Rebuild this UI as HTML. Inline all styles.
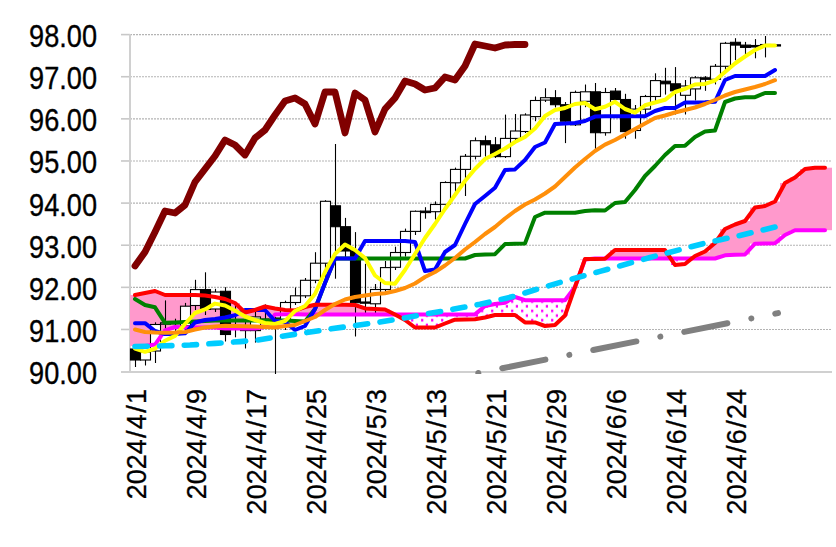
<!DOCTYPE html>
<html><head><meta charset="utf-8"><style>
html,body{margin:0;padding:0;background:#fff;}
body{width:836px;height:547px;position:relative;overflow:hidden;font-family:"Liberation Sans",sans-serif;}
.yl{position:absolute;left:0;width:97px;text-align:right;font-size:31px;line-height:34px;color:#000;transform:scaleX(0.875);transform-origin:97px 0;-webkit-text-stroke:0.35px #000;}
.sl{margin:0 1.3px;}
.xl{position:absolute;top:389px;font-size:27px;line-height:27px;color:#000;white-space:nowrap;-webkit-text-stroke:0.3px #000;transform-origin:0 0;transform:rotate(-90deg) translate(-100%,0);}
</style></head><body>
<svg width="836" height="547" viewBox="0 0 836 547" style="position:absolute;left:0;top:0">
<defs><pattern id="dots" x="0" y="2" width="10" height="9.3" patternUnits="userSpaceOnUse"><rect x="0" y="0" width="10" height="9.3" fill="#fff"/><rect x="5.8" y="5.4" width="2.2" height="2.6" fill="#ff00ff"/><rect x="1.1" y="0.7" width="2.2" height="2.6" fill="#ff00ff"/></pattern></defs>
<line x1="121" y1="34.6" x2="130" y2="34.6" stroke="#c8c8c8" stroke-width="1.6"/>
<line x1="130" y1="34.6" x2="832" y2="34.6" stroke="#b4b4b4" stroke-width="1.2" stroke-dasharray="2 1"/>
<line x1="121" y1="76.725" x2="130" y2="76.725" stroke="#c8c8c8" stroke-width="1.6"/>
<line x1="130" y1="76.725" x2="832" y2="76.725" stroke="#b4b4b4" stroke-width="1.2" stroke-dasharray="2 1"/>
<line x1="121" y1="118.85" x2="130" y2="118.85" stroke="#c8c8c8" stroke-width="1.6"/>
<line x1="130" y1="118.85" x2="832" y2="118.85" stroke="#b4b4b4" stroke-width="1.2" stroke-dasharray="2 1"/>
<line x1="121" y1="160.975" x2="130" y2="160.975" stroke="#c8c8c8" stroke-width="1.6"/>
<line x1="130" y1="160.975" x2="832" y2="160.975" stroke="#b4b4b4" stroke-width="1.2" stroke-dasharray="2 1"/>
<line x1="121" y1="203.1" x2="130" y2="203.1" stroke="#c8c8c8" stroke-width="1.6"/>
<line x1="130" y1="203.1" x2="832" y2="203.1" stroke="#b4b4b4" stroke-width="1.2" stroke-dasharray="2 1"/>
<line x1="121" y1="245.225" x2="130" y2="245.225" stroke="#c8c8c8" stroke-width="1.6"/>
<line x1="130" y1="245.225" x2="832" y2="245.225" stroke="#b4b4b4" stroke-width="1.2" stroke-dasharray="2 1"/>
<line x1="121" y1="287.35" x2="130" y2="287.35" stroke="#c8c8c8" stroke-width="1.6"/>
<line x1="130" y1="287.35" x2="832" y2="287.35" stroke="#b4b4b4" stroke-width="1.2" stroke-dasharray="2 1"/>
<line x1="121" y1="329.475" x2="130" y2="329.475" stroke="#c8c8c8" stroke-width="1.6"/>
<line x1="130" y1="329.475" x2="832" y2="329.475" stroke="#b4b4b4" stroke-width="1.2" stroke-dasharray="2 1"/>
<line x1="130" y1="34" x2="130" y2="372" stroke="#d0d0d0" stroke-width="2"/>
<line x1="121" y1="372" x2="832" y2="372" stroke="#d0d0d0" stroke-width="2"/>
<rect x="130" y="295" width="10" height="51" fill="#ff99cc"/>
<rect x="140" y="293" width="10" height="53" fill="#ff99cc"/>
<rect x="150" y="291" width="10" height="53.60000000000002" fill="#ff99cc"/>
<rect x="160" y="295" width="10" height="35.30000000000001" fill="#ff99cc"/>
<rect x="170" y="295" width="10" height="32" fill="#ff99cc"/>
<rect x="180" y="295" width="10" height="32.5" fill="#ff99cc"/>
<rect x="190" y="295" width="10" height="32.5" fill="#ff99cc"/>
<rect x="200" y="295.5" width="10" height="32.0" fill="#ff99cc"/>
<rect x="210" y="297" width="10" height="30.5" fill="#ff99cc"/>
<rect x="220" y="299" width="10" height="29.5" fill="#ff99cc"/>
<rect x="230" y="303" width="10" height="25.5" fill="#ff99cc"/>
<rect x="240" y="312.5" width="10" height="16.0" fill="#ff99cc"/>
<rect x="250" y="310" width="10" height="18.5" fill="#ff99cc"/>
<rect x="260" y="306.5" width="10" height="20.5" fill="#ff99cc"/>
<rect x="270" y="308.5" width="10" height="6.100000000000023" fill="#ff99cc"/>
<rect x="280" y="310" width="10" height="4.199999999999989" fill="#ff99cc"/>
<rect x="290" y="310.5" width="10" height="3.6999999999999886" fill="#ff99cc"/>
<rect x="300" y="307" width="10" height="7.399999999999977" fill="#ff99cc"/>
<rect x="310" y="304.7" width="10" height="9.699999999999989" fill="#ff99cc"/>
<rect x="320" y="304.7" width="10" height="9.699999999999989" fill="#ff99cc"/>
<rect x="330" y="304.7" width="10" height="9.699999999999989" fill="#ff99cc"/>
<rect x="340" y="304.7" width="10" height="9.699999999999989" fill="#ff99cc"/>
<rect x="350" y="305" width="10" height="9.399999999999977" fill="#ff99cc"/>
<rect x="360" y="308.4" width="10" height="6.0" fill="#ff99cc"/>
<rect x="370" y="309" width="10" height="5.399999999999977" fill="#ff99cc"/>
<rect x="380" y="309.5" width="10" height="4.899999999999977" fill="#ff99cc"/>
<rect x="390" y="314.4" width="10" height="0.10000000000002274" fill="url(#dots)"/>
<rect x="400" y="314.4" width="10" height="5.600000000000023" fill="url(#dots)"/>
<rect x="410" y="314.4" width="10" height="13.100000000000023" fill="url(#dots)"/>
<rect x="420" y="314.4" width="10" height="13.100000000000023" fill="url(#dots)"/>
<rect x="430" y="314.4" width="10" height="13.100000000000023" fill="url(#dots)"/>
<rect x="440" y="314.4" width="10" height="9.100000000000023" fill="url(#dots)"/>
<rect x="450" y="314.4" width="10" height="5.300000000000011" fill="url(#dots)"/>
<rect x="460" y="314.4" width="10" height="5.100000000000023" fill="url(#dots)"/>
<rect x="470" y="314.4" width="10" height="4.900000000000034" fill="url(#dots)"/>
<rect x="480" y="306" width="10" height="11.5" fill="url(#dots)"/>
<rect x="490" y="304" width="10" height="11" fill="url(#dots)"/>
<rect x="500" y="302.7" width="10" height="12.300000000000011" fill="url(#dots)"/>
<rect x="510" y="297" width="10" height="18" fill="url(#dots)"/>
<rect x="520" y="300.2" width="10" height="22.19999999999999" fill="url(#dots)"/>
<rect x="530" y="300.2" width="10" height="22.19999999999999" fill="url(#dots)"/>
<rect x="540" y="300.2" width="10" height="25.80000000000001" fill="url(#dots)"/>
<rect x="550" y="300.2" width="10" height="24.80000000000001" fill="url(#dots)"/>
<rect x="560" y="300.2" width="10" height="15.300000000000011" fill="url(#dots)"/>
<rect x="570" y="287" width="10" height="0" fill="url(#dots)"/>
<rect x="580" y="259" width="10" height="0.5" fill="#ff99cc"/>
<rect x="590" y="258.5" width="10" height="0.5" fill="url(#dots)"/>
<rect x="600" y="258.5" width="10" height="0.19999999999998863" fill="url(#dots)"/>
<rect x="610" y="250" width="10" height="8.5" fill="#ff99cc"/>
<rect x="620" y="250" width="10" height="8.5" fill="#ff99cc"/>
<rect x="630" y="250" width="10" height="8.5" fill="#ff99cc"/>
<rect x="640" y="250" width="10" height="8.5" fill="#ff99cc"/>
<rect x="650" y="250" width="10" height="8.5" fill="#ff99cc"/>
<rect x="660" y="250" width="10" height="8.5" fill="#ff99cc"/>
<rect x="670" y="258.5" width="10" height="6.5" fill="url(#dots)"/>
<rect x="680" y="258.5" width="10" height="5.5" fill="url(#dots)"/>
<rect x="690" y="256" width="10" height="2.5" fill="#ff99cc"/>
<rect x="700" y="251.5" width="10" height="7.0" fill="#ff99cc"/>
<rect x="710" y="243" width="10" height="15.5" fill="#ff99cc"/>
<rect x="720" y="229" width="10" height="26.30000000000001" fill="#ff99cc"/>
<rect x="730" y="224.5" width="10" height="30.30000000000001" fill="#ff99cc"/>
<rect x="740" y="221" width="10" height="33.5" fill="#ff99cc"/>
<rect x="750" y="207.5" width="10" height="36.19999999999999" fill="#ff99cc"/>
<rect x="760" y="206" width="10" height="37.5" fill="#ff99cc"/>
<rect x="770" y="201.5" width="10" height="41.69999999999999" fill="#ff99cc"/>
<rect x="780" y="183" width="10" height="52" fill="#ff99cc"/>
<rect x="790" y="177.5" width="10" height="52.69999999999999" fill="#ff99cc"/>
<rect x="800" y="169" width="10" height="61.19999999999999" fill="#ff99cc"/>
<rect x="810" y="167.7" width="10" height="62.5" fill="#ff99cc"/>
<rect x="820" y="167.7" width="12" height="62.5" fill="#ff99cc"/>
<line x1="135.5" y1="346" x2="135.5" y2="367" stroke="#000" stroke-width="1.1"/>
<rect x="130.5" y="349" width="10" height="11" fill="#000" stroke="#000" stroke-width="1.1"/>
<line x1="145.5" y1="350" x2="145.5" y2="365.5" stroke="#000" stroke-width="1.1"/>
<rect x="140.5" y="352" width="10" height="8" fill="#fff" stroke="#000" stroke-width="1.1"/>
<line x1="155.5" y1="322.3" x2="155.5" y2="363" stroke="#000" stroke-width="1.1"/>
<rect x="150.5" y="324.5" width="10" height="26.5" fill="#fff" stroke="#000" stroke-width="1.1"/>
<line x1="165.5" y1="300.4" x2="165.5" y2="335" stroke="#000" stroke-width="1.1"/>
<rect x="160.5" y="322.8" width="10" height="1.3999999999999773" fill="#fff" stroke="#000" stroke-width="1.1"/>
<line x1="175.5" y1="318.7" x2="175.5" y2="333" stroke="#000" stroke-width="1.1"/>
<rect x="170.5" y="322.5" width="10" height="1.2" fill="#fff" stroke="#000" stroke-width="1.1"/>
<line x1="185.5" y1="302.9" x2="185.5" y2="330" stroke="#000" stroke-width="1.1"/>
<rect x="180.5" y="306.2" width="10" height="19.600000000000023" fill="#fff" stroke="#000" stroke-width="1.1"/>
<line x1="195.5" y1="279.8" x2="195.5" y2="310" stroke="#000" stroke-width="1.1"/>
<rect x="190.5" y="289.6" width="10" height="15.899999999999977" fill="#fff" stroke="#000" stroke-width="1.1"/>
<line x1="205.5" y1="272.3" x2="205.5" y2="315" stroke="#000" stroke-width="1.1"/>
<rect x="200.5" y="289.6" width="10" height="19.799999999999955" fill="#000" stroke="#000" stroke-width="1.1"/>
<line x1="215.5" y1="288.8" x2="215.5" y2="312" stroke="#000" stroke-width="1.1"/>
<rect x="210.5" y="292" width="10" height="17" fill="#fff" stroke="#000" stroke-width="1.1"/>
<line x1="225.5" y1="287.2" x2="225.5" y2="341.5" stroke="#000" stroke-width="1.1"/>
<rect x="220.5" y="291.3" width="10" height="43.19999999999999" fill="#000" stroke="#000" stroke-width="1.1"/>
<line x1="235.5" y1="304.3" x2="235.5" y2="337.3" stroke="#000" stroke-width="1.1"/>
<rect x="230.5" y="325.5" width="10" height="1.5" fill="#fff" stroke="#000" stroke-width="1.1"/>
<line x1="245.5" y1="315" x2="245.5" y2="348.5" stroke="#000" stroke-width="1.1"/>
<rect x="240.5" y="327" width="10" height="3.6000000000000227" fill="#fff" stroke="#000" stroke-width="1.1"/>
<line x1="255.5" y1="312" x2="255.5" y2="342.6" stroke="#000" stroke-width="1.1"/>
<rect x="250.5" y="316.9" width="10" height="13.700000000000045" fill="#fff" stroke="#000" stroke-width="1.1"/>
<line x1="265.5" y1="304.4" x2="265.5" y2="325" stroke="#000" stroke-width="1.1"/>
<rect x="260.5" y="319" width="10" height="1.5" fill="#000" stroke="#000" stroke-width="1.1"/>
<line x1="275.5" y1="317" x2="275.5" y2="374" stroke="#000" stroke-width="1.1"/>
<rect x="270.5" y="318" width="10" height="1.8000000000000114" fill="#000" stroke="#000" stroke-width="1.1"/>
<line x1="285.5" y1="300.7" x2="285.5" y2="330" stroke="#000" stroke-width="1.1"/>
<rect x="280.5" y="302.5" width="10" height="17.5" fill="#fff" stroke="#000" stroke-width="1.1"/>
<line x1="295.5" y1="287.5" x2="295.5" y2="305" stroke="#000" stroke-width="1.1"/>
<rect x="290.5" y="295.8" width="10" height="6.699999999999989" fill="#fff" stroke="#000" stroke-width="1.1"/>
<line x1="305.5" y1="278" x2="305.5" y2="298" stroke="#000" stroke-width="1.1"/>
<rect x="300.5" y="280.3" width="10" height="15.5" fill="#fff" stroke="#000" stroke-width="1.1"/>
<line x1="315.5" y1="252.2" x2="315.5" y2="283.2" stroke="#000" stroke-width="1.1"/>
<rect x="310.5" y="263.2" width="10" height="17.100000000000023" fill="#fff" stroke="#000" stroke-width="1.1"/>
<line x1="325.5" y1="200.2" x2="325.5" y2="279.2" stroke="#000" stroke-width="1.1"/>
<rect x="320.5" y="201.3" width="10" height="61.89999999999998" fill="#fff" stroke="#000" stroke-width="1.1"/>
<line x1="335.5" y1="144" x2="335.5" y2="278.7" stroke="#000" stroke-width="1.1"/>
<rect x="330.5" y="205.8" width="10" height="20.899999999999977" fill="#000" stroke="#000" stroke-width="1.1"/>
<line x1="345.5" y1="217.9" x2="345.5" y2="260" stroke="#000" stroke-width="1.1"/>
<rect x="340.5" y="226.7" width="10" height="24.30000000000001" fill="#000" stroke="#000" stroke-width="1.1"/>
<line x1="355.5" y1="232.1" x2="355.5" y2="336.5" stroke="#000" stroke-width="1.1"/>
<rect x="350.5" y="250.8" width="10" height="51.89999999999998" fill="#000" stroke="#000" stroke-width="1.1"/>
<line x1="365.5" y1="263.8" x2="365.5" y2="313" stroke="#000" stroke-width="1.1"/>
<rect x="360.5" y="302" width="10" height="1.2" fill="#000" stroke="#000" stroke-width="1.1"/>
<line x1="375.5" y1="284" x2="375.5" y2="313" stroke="#000" stroke-width="1.1"/>
<rect x="370.5" y="289.5" width="10" height="14.300000000000011" fill="#fff" stroke="#000" stroke-width="1.1"/>
<line x1="385.5" y1="261" x2="385.5" y2="295" stroke="#000" stroke-width="1.1"/>
<rect x="380.5" y="267.6" width="10" height="21.899999999999977" fill="#fff" stroke="#000" stroke-width="1.1"/>
<line x1="395.5" y1="246.7" x2="395.5" y2="270" stroke="#000" stroke-width="1.1"/>
<rect x="390.5" y="252.5" width="10" height="14.800000000000011" fill="#fff" stroke="#000" stroke-width="1.1"/>
<line x1="405.5" y1="228.6" x2="405.5" y2="256.6" stroke="#000" stroke-width="1.1"/>
<rect x="400.5" y="231.4" width="10" height="21.099999999999994" fill="#fff" stroke="#000" stroke-width="1.1"/>
<line x1="415.5" y1="210.5" x2="415.5" y2="235" stroke="#000" stroke-width="1.1"/>
<rect x="410.5" y="211.3" width="10" height="20.099999999999994" fill="#fff" stroke="#000" stroke-width="1.1"/>
<line x1="425.5" y1="207.2" x2="425.5" y2="218.7" stroke="#000" stroke-width="1.1"/>
<rect x="420.5" y="211.1" width="10" height="1.5" fill="#000" stroke="#000" stroke-width="1.1"/>
<line x1="435.5" y1="201.4" x2="435.5" y2="219.5" stroke="#000" stroke-width="1.1"/>
<rect x="430.5" y="204.5" width="10" height="7.199999999999989" fill="#fff" stroke="#000" stroke-width="1.1"/>
<line x1="445.5" y1="181.3" x2="445.5" y2="210" stroke="#000" stroke-width="1.1"/>
<rect x="440.5" y="182.5" width="10" height="21.80000000000001" fill="#fff" stroke="#000" stroke-width="1.1"/>
<line x1="455.5" y1="167.6" x2="455.5" y2="193.2" stroke="#000" stroke-width="1.1"/>
<rect x="450.5" y="169.4" width="10" height="13.400000000000006" fill="#fff" stroke="#000" stroke-width="1.1"/>
<line x1="465.5" y1="154" x2="465.5" y2="196" stroke="#000" stroke-width="1.1"/>
<rect x="460.5" y="156.3" width="10" height="13.099999999999994" fill="#fff" stroke="#000" stroke-width="1.1"/>
<line x1="475.5" y1="137.4" x2="475.5" y2="159.4" stroke="#000" stroke-width="1.1"/>
<rect x="470.5" y="140.7" width="10" height="15.600000000000023" fill="#fff" stroke="#000" stroke-width="1.1"/>
<line x1="485.5" y1="135.6" x2="485.5" y2="156.6" stroke="#000" stroke-width="1.1"/>
<rect x="480.5" y="140.7" width="10" height="4.100000000000023" fill="#000" stroke="#000" stroke-width="1.1"/>
<line x1="495.5" y1="137.1" x2="495.5" y2="158" stroke="#000" stroke-width="1.1"/>
<rect x="490.5" y="144.8" width="10" height="11.799999999999983" fill="#000" stroke="#000" stroke-width="1.1"/>
<line x1="505.5" y1="114.6" x2="505.5" y2="158" stroke="#000" stroke-width="1.1"/>
<rect x="500.5" y="138.4" width="10" height="18.19999999999999" fill="#fff" stroke="#000" stroke-width="1.1"/>
<line x1="515.5" y1="114" x2="515.5" y2="140" stroke="#000" stroke-width="1.1"/>
<rect x="510.5" y="131" width="10" height="7.400000000000006" fill="#fff" stroke="#000" stroke-width="1.1"/>
<line x1="525.5" y1="113.3" x2="525.5" y2="133" stroke="#000" stroke-width="1.1"/>
<rect x="520.5" y="115" width="10" height="16.5" fill="#fff" stroke="#000" stroke-width="1.1"/>
<line x1="535.5" y1="96.5" x2="535.5" y2="121.2" stroke="#000" stroke-width="1.1"/>
<rect x="530.5" y="100.5" width="10" height="16.099999999999994" fill="#fff" stroke="#000" stroke-width="1.1"/>
<line x1="545.5" y1="88.2" x2="545.5" y2="102" stroke="#000" stroke-width="1.1"/>
<rect x="540.5" y="97.7" width="10" height="2.3999999999999915" fill="#fff" stroke="#000" stroke-width="1.1"/>
<line x1="555.5" y1="90.1" x2="555.5" y2="107.4" stroke="#000" stroke-width="1.1"/>
<rect x="550.5" y="97.7" width="10" height="7.0" fill="#000" stroke="#000" stroke-width="1.1"/>
<line x1="565.5" y1="102" x2="565.5" y2="143.1" stroke="#000" stroke-width="1.1"/>
<rect x="560.5" y="104.7" width="10" height="16.5" fill="#000" stroke="#000" stroke-width="1.1"/>
<line x1="575.5" y1="90.6" x2="575.5" y2="126" stroke="#000" stroke-width="1.1"/>
<rect x="570.5" y="92.4" width="10" height="32.39999999999999" fill="#fff" stroke="#000" stroke-width="1.1"/>
<line x1="585.5" y1="84.5" x2="585.5" y2="107.2" stroke="#000" stroke-width="1.1"/>
<rect x="580.5" y="91.8" width="10" height="9.5" fill="#fff" stroke="#000" stroke-width="1.1"/>
<line x1="595.5" y1="83" x2="595.5" y2="149.6" stroke="#000" stroke-width="1.1"/>
<rect x="590.5" y="91.8" width="10" height="40.89999999999999" fill="#000" stroke="#000" stroke-width="1.1"/>
<line x1="605.5" y1="87.9" x2="605.5" y2="135.7" stroke="#000" stroke-width="1.1"/>
<rect x="600.5" y="92.5" width="10" height="40.19999999999999" fill="#fff" stroke="#000" stroke-width="1.1"/>
<line x1="615.5" y1="88" x2="615.5" y2="101" stroke="#000" stroke-width="1.1"/>
<rect x="610.5" y="91.1" width="10" height="8.400000000000006" fill="#000" stroke="#000" stroke-width="1.1"/>
<line x1="625.5" y1="93.8" x2="625.5" y2="138.7" stroke="#000" stroke-width="1.1"/>
<rect x="620.5" y="99.5" width="10" height="32.099999999999994" fill="#000" stroke="#000" stroke-width="1.1"/>
<line x1="635.5" y1="105" x2="635.5" y2="138.7" stroke="#000" stroke-width="1.1"/>
<rect x="630.5" y="109.1" width="10" height="21.400000000000006" fill="#fff" stroke="#000" stroke-width="1.1"/>
<line x1="645.5" y1="94.9" x2="645.5" y2="114" stroke="#000" stroke-width="1.1"/>
<rect x="640.5" y="96.5" width="10" height="12.599999999999994" fill="#fff" stroke="#000" stroke-width="1.1"/>
<line x1="655.5" y1="73.3" x2="655.5" y2="101" stroke="#000" stroke-width="1.1"/>
<rect x="650.5" y="80.6" width="10" height="15.900000000000006" fill="#fff" stroke="#000" stroke-width="1.1"/>
<line x1="665.5" y1="67.8" x2="665.5" y2="94.6" stroke="#000" stroke-width="1.1"/>
<rect x="660.5" y="81.2" width="10" height="2.5999999999999943" fill="#000" stroke="#000" stroke-width="1.1"/>
<line x1="675.5" y1="67.1" x2="675.5" y2="114.5" stroke="#000" stroke-width="1.1"/>
<rect x="670.5" y="83.8" width="10" height="7.0" fill="#000" stroke="#000" stroke-width="1.1"/>
<line x1="685.5" y1="80" x2="685.5" y2="114.5" stroke="#000" stroke-width="1.1"/>
<rect x="680.5" y="86" width="10" height="9.299999999999997" fill="#fff" stroke="#000" stroke-width="1.1"/>
<line x1="695.5" y1="76.1" x2="695.5" y2="100.4" stroke="#000" stroke-width="1.1"/>
<rect x="690.5" y="77.8" width="10" height="11.100000000000009" fill="#fff" stroke="#000" stroke-width="1.1"/>
<line x1="705.5" y1="76.1" x2="705.5" y2="90.8" stroke="#000" stroke-width="1.1"/>
<rect x="700.5" y="77.8" width="10" height="1.5" fill="#000" stroke="#000" stroke-width="1.1"/>
<line x1="715.5" y1="64" x2="715.5" y2="84.4" stroke="#000" stroke-width="1.1"/>
<rect x="710.5" y="66.3" width="10" height="13.0" fill="#fff" stroke="#000" stroke-width="1.1"/>
<line x1="725.5" y1="41.9" x2="725.5" y2="73" stroke="#000" stroke-width="1.1"/>
<rect x="720.5" y="43.3" width="10" height="23.0" fill="#fff" stroke="#000" stroke-width="1.1"/>
<line x1="735.5" y1="38.2" x2="735.5" y2="60.2" stroke="#000" stroke-width="1.1"/>
<rect x="730.5" y="42.3" width="10" height="2.8000000000000043" fill="#000" stroke="#000" stroke-width="1.1"/>
<line x1="745.5" y1="41.9" x2="745.5" y2="54.2" stroke="#000" stroke-width="1.1"/>
<rect x="740.5" y="45.1" width="10" height="2.299999999999997" fill="#000" stroke="#000" stroke-width="1.1"/>
<line x1="755.5" y1="39.1" x2="755.5" y2="58.3" stroke="#000" stroke-width="1.1"/>
<rect x="750.5" y="45.5" width="10" height="1.5" fill="#000" stroke="#000" stroke-width="1.1"/>
<line x1="765.5" y1="36" x2="765.5" y2="57.4" stroke="#000" stroke-width="1.1"/>
<rect x="760.5" y="44.5" width="10" height="1.2999999999999972" fill="#000" stroke="#000" stroke-width="1.1"/>
<line x1="775.5" y1="44" x2="775.5" y2="46" stroke="#000" stroke-width="1.1"/>
<rect x="770.5" y="44.8" width="10" height="1.2" fill="#000" stroke="#000" stroke-width="1.1"/>
<polyline points="135,346 145,346 155,344.6 165,330.3 175,327 185,327.5 195,327.5 205,327.5 215,327.5 225,328.5 235,328.5 245,328.5 255,328.5 265,327 275,314.6 285,314.2 295,314.2 305,314.4 315,314.4 325,314.4 335,314.4 345,314.4 355,314.4 365,314.4 375,314.4 385,314.4 395,314.4 405,314.4 415,314.4 425,314.4 435,314.4 445,314.4 455,314.4 465,314.4 475,314.4 485,306 495,304 505,302.7 515,297 525,300.2 535,300.2 545,300.2 555,300.2 565,300.2 575,287 585,259.5 595,258.5 605,258.5 615,258.5 625,258.5 635,258.5 645,258.5 655,258.5 665,258.5 675,258.5 685,258.5 695,258.5 705,258.5 715,258.5 725,255.3 735,254.8 745,254.5 755,243.7 765,243.5 775,243.2 785,235 795,230.2 805,230.2 815,230.2 825,230.2" fill="none" stroke="#ff00ff" stroke-width="4.0" stroke-linejoin="round" stroke-linecap="round"/>
<polyline points="135,299 145,305 155,307.3 165,322.8 175,322.5 185,322 195,321.5 205,321 215,320.5 225,320.5 235,320.5 245,320.5 255,320.5 265,320.5 275,320.5 285,320.5 295,321 305,321.5 315,309 325,283 335,258.5 345,258.5 355,258.5 365,258.5 375,258.5 385,258.5 395,258.5 405,258.5 415,258.5 425,258.5 435,258.5 445,258.5 455,258.5 465,258.5 475,255 485,254.5 495,254.2 505,244.1 515,243.7 525,243.4 535,217 545,212.7 555,212.7 565,212.7 575,212.7 585,211 595,210.2 605,210.5 615,203 625,202 635,190 645,176 655,166 665,155 675,146 685,145.8 695,137 705,131.5 715,130.5 725,102 735,98.5 745,97.2 755,97.2 765,93 775,93" fill="none" stroke="#008000" stroke-width="4.0" stroke-linejoin="round" stroke-linecap="round"/>
<polyline points="135,323.2 145,323.2 155,331 165,334 175,334 185,333.3 195,322.5 205,320 215,319 225,317.5 235,315.3 245,310 255,310 265,310 275,321 285,322 295,330 305,326 315,309 325,283 335,258.5 345,258.5 355,258.5 365,241 375,241 385,241 395,241 405,241 415,242 425,271 435,269.5 445,252 455,245 465,224 475,204 485,196 495,187.7 505,170 515,169.4 525,160 535,147 545,142.5 555,124 565,123.5 575,123 585,121 595,116.6 605,116.3 615,116.3 625,116.3 635,116.3 645,116.3 655,111 665,108 675,108 685,102.6 695,102.5 705,102.3 715,101.8 725,80 735,76 745,76 755,76 765,76 775,70" fill="none" stroke="#0000ff" stroke-width="4.0" stroke-linejoin="round" stroke-linecap="round"/>
<polyline points="135,295 145,293 155,291 165,295 175,295 185,295 195,295 205,295.5 215,297 225,299 235,303 245,312.5 255,310 265,306.5 275,308.5 285,310 295,310.5 305,307 315,304.7 325,304.7 335,304.7 345,304.7 355,305 365,308.4 375,309 385,309.5 395,314.5 405,320 415,327.5 425,327.5 435,327.5 445,323.5 455,319.7 465,319.5 475,319.3 485,317.5 495,315 505,315 515,315 525,322.4 535,322.4 545,326 555,325 565,315.5 575,287 585,259 595,259 605,258.7 615,250 625,250 635,250 645,250 655,250 665,250 675,265 685,264 695,256 705,251.5 715,243 725,229 735,224.5 745,221 755,207.5 765,206 775,201.5 785,183 795,177.5 805,169 815,167.7 825,167.7" fill="none" stroke="#ff0000" stroke-width="4.0" stroke-linejoin="round" stroke-linecap="round"/>
<polyline points="135,348.6 145,351.8 155,348.6 165,340.7 175,335.9 185,324 195,313 205,309.4 215,303.6 225,305.5 235,310.5 245,316.5 255,320 265,323 275,324 285,321 295,311 305,306 315,294 325,272 335,254 345,244.5 355,250 365,258 375,275.5 385,283 395,283.7 405,270 415,254 425,238 435,224 445,209 455,195 465,181 475,169 485,159 495,154 505,148.5 515,142 525,137 535,128.5 545,116 555,110 565,108 575,104 585,103 595,109.3 605,106.8 615,101.8 625,109 635,112.6 645,105.3 655,102.5 665,99.8 675,92 685,88.8 695,84.5 705,83.9 715,80.5 725,72 735,63.5 745,56.5 755,50 765,45.5 775,45.5" fill="none" stroke="#ffff00" stroke-width="4.0" stroke-linejoin="round" stroke-linecap="round"/>
<polyline points="135,329.5 145,332 155,332.5 165,332.7 175,332.5 185,332 195,329.5 205,327.5 215,326.5 225,325.8 235,326 245,326.3 255,326.5 265,327 275,327.5 285,326 295,325 305,321 315,317 325,310 335,304 345,299.5 355,297 365,295.5 375,294 385,293.2 395,291 405,288 415,283.5 425,277 435,272 445,265.5 455,258 465,249.5 475,242 485,234 495,227 505,218.5 515,211 525,204.5 535,199.5 545,193.5 555,186.5 565,177 575,167.5 585,159 595,151 605,144.6 615,140 625,134.5 635,129 645,123.5 655,118 665,115.5 675,112.5 685,110 695,107.5 705,104 715,100 725,95.5 735,92 745,89.5 755,87 765,84 775,80.2" fill="none" stroke="#ff8f0a" stroke-width="4.0" stroke-linejoin="round" stroke-linecap="round"/>
<polyline points="135,346.5 165,345.8 190,345 215,343.4 240,341.6 256,340.3 280,336.5 304,333 330,329 355,325.5 378,322.4 403,318.3 427,313.8 451,309.7 480,304.3 515,296.1 536,289.5 561,282.1 585,275.5 600,271.4 650,257.5 704,243.4 740,235.5 777,226.6" fill="none" stroke="#00ccff" stroke-width="5.6" stroke-linecap="round" stroke-dasharray="12.25 12.4" stroke-dashoffset="0"/>
<clipPath id="clip"><rect x="130" y="30" width="706" height="344"/></clipPath>
<line x1="453" y1="378.1" x2="778" y2="313.1" stroke="#808080" stroke-width="6" stroke-linecap="round" stroke-dasharray="44 24.4 0.01 24.4" stroke-dashoffset="42.6" clip-path="url(#clip)"/>
<polyline points="135,266 145,252 155,232 165,211 175,213 185,205 195,182 205,169 215,156 225,140 235,145 245,155 255,138 265,130 275,115 285,101 295,98 305,104 315,124 325,92 335,92 345,133 355,93 365,100 375,132 385,109 395,98 405,81 415,84 425,90 435,88 445,77 455,80 465,66 475,44 485,46 495,48 505,45 515,44.5 525,44.5" fill="none" stroke="#800000" stroke-width="6.8" stroke-linejoin="round" stroke-linecap="round"/>
</svg>
<div class="yl" style="top:20.0px">98.00</div><div class="yl" style="top:62.1px">97.00</div><div class="yl" style="top:104.2px">96.00</div><div class="yl" style="top:146.4px">95.00</div><div class="yl" style="top:188.5px">94.00</div><div class="yl" style="top:230.6px">93.00</div><div class="yl" style="top:272.8px">92.00</div><div class="yl" style="top:314.9px">91.00</div><div class="yl" style="top:357.0px">90.00</div>
<div class="xl" style="left:123.5px">2024<span class="sl">/</span>4<span class="sl">/</span>1</div><div class="xl" style="left:183.5px">2024<span class="sl">/</span>4<span class="sl">/</span>9</div><div class="xl" style="left:243.5px">2024<span class="sl">/</span>4<span class="sl">/</span>17</div><div class="xl" style="left:303.5px">2024<span class="sl">/</span>4<span class="sl">/</span>25</div><div class="xl" style="left:363.5px">2024<span class="sl">/</span>5<span class="sl">/</span>3</div><div class="xl" style="left:423.5px">2024<span class="sl">/</span>5<span class="sl">/</span>13</div><div class="xl" style="left:483.5px">2024<span class="sl">/</span>5<span class="sl">/</span>21</div><div class="xl" style="left:543.5px">2024<span class="sl">/</span>5<span class="sl">/</span>29</div><div class="xl" style="left:603.5px">2024<span class="sl">/</span>6<span class="sl">/</span>6</div><div class="xl" style="left:663.5px">2024<span class="sl">/</span>6<span class="sl">/</span>14</div><div class="xl" style="left:723.5px">2024<span class="sl">/</span>6<span class="sl">/</span>24</div>
</body></html>
